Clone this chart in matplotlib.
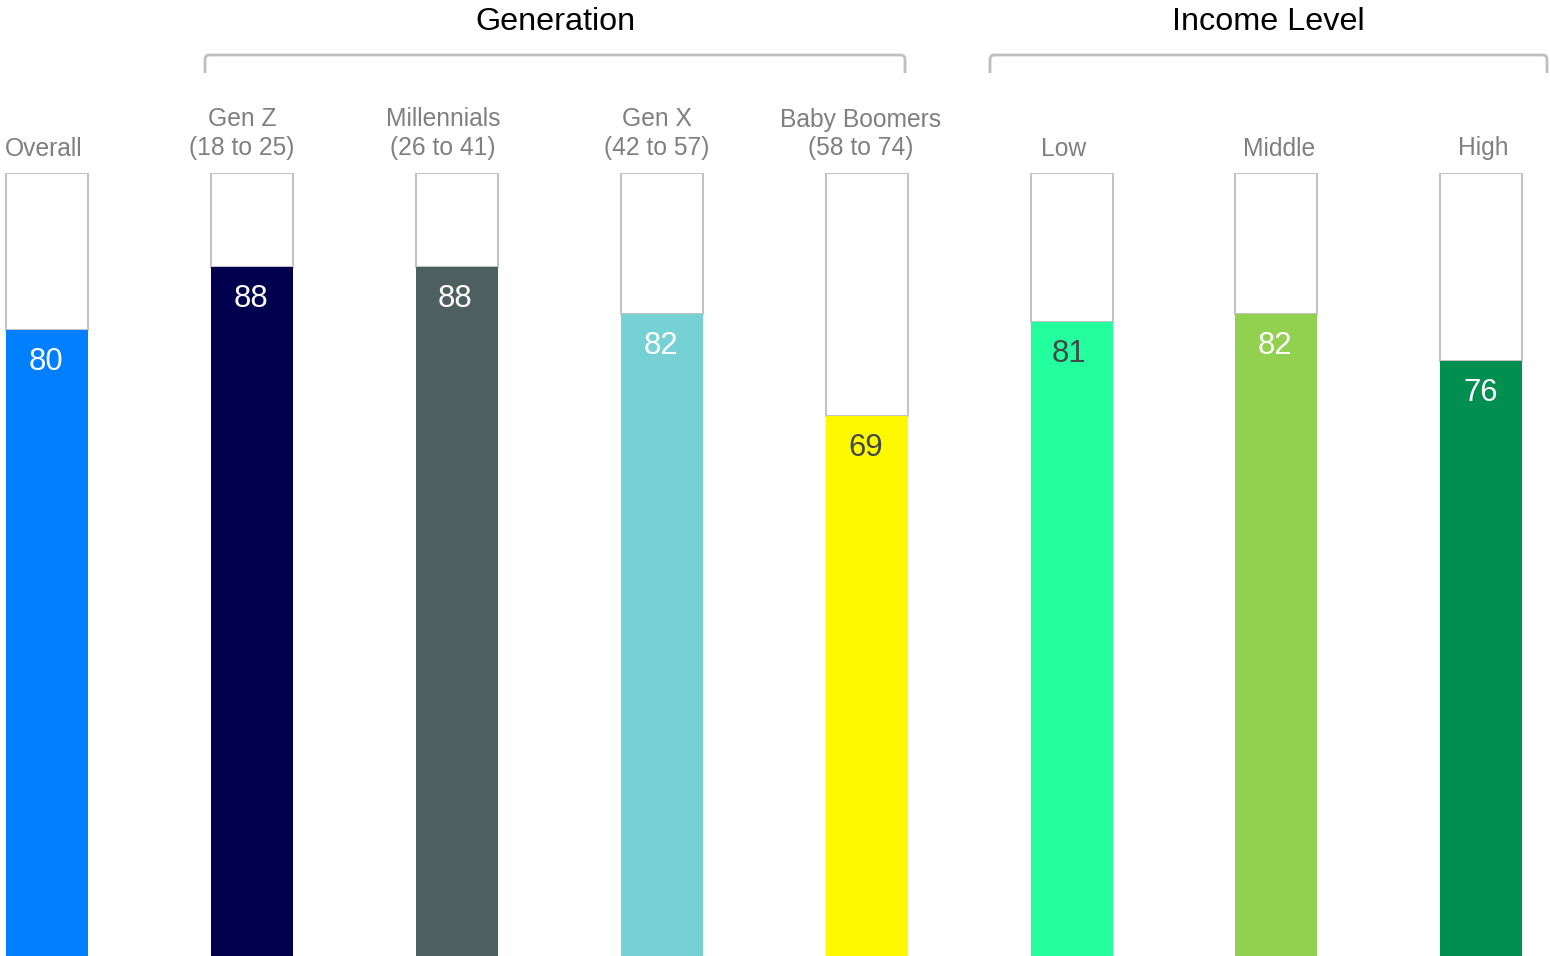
import matplotlib.pyplot as plt
from matplotlib.path import Path
from matplotlib.patches import PathPatch

plt.rcParams['font.family'] = ['Liberation Sans', 'DejaVu Sans']

categories = ["Overall", "Gen Z\n(18 to 25)", "Millennials\n(26 to 41)", "Gen X\n(42 to 57)",
              "Baby Boomers\n(58 to 74)", "Low", "Middle", "High"]
values = [80, 88, 88, 82, 69, 81, 82, 76]
colors = ["#0080FF", "#00004F", "#4D5F5F", "#76D1D5", "#FFF900", "#22FF9C", "#92D050", "#008F50"]
label_colors = ["white", "white", "white", "white", "#404848", "#404848", "white", "white"]
groups = [("Generation", 1, 4), ("Income Level", 5, 7)]

# small horizontal nudges (pixels) of the category labels, as in the original
cat_shift = [-3, -10, -14, -5, -6, -8, 3, 2]
val_shift = [-1, -1, -2, -1, -1, -3, -2, -1]

W, H = 1550, 956
fig = plt.figure(figsize=(W / 100, H / 100), dpi=100)
# axes: y=100 at pixel 173 from top, y=0 at bottom of figure
ax = fig.add_axes([0, 0, 1, (H - 173) / H])
step = 204.9
ax.set_xlim(-47 / step, (W - 47) / step)
ax.set_ylim(0, 100)
ax.axis('off')

ppu = (H - 173) / 100.0  # pixels per percent unit


def ypx(p):
    # pixel from top -> data y
    return (H - p) / ppu


x = list(range(len(values)))
bw = 82 / step
ax.bar(x, [100 - v for v in values], bottom=values, width=bw, color='white',
       edgecolor='#C4C4C4', linewidth=1.5, zorder=1)
ax.bar(x, values, width=bw, color=colors, linewidth=0, zorder=2)

for i, (v, c) in enumerate(zip(values, label_colors)):
    ax.annotate(str(v), (i, v), xytext=(val_shift[i], -32.5), textcoords='offset pixels',
                ha='center', va='center', fontsize=22.3, color=c, zorder=3)
    lines = categories[i].split('\n')
    ys = [148.5] if len(lines) == 1 else [119.5, 148.5]
    for line, yp in zip(lines, ys):
        ax.annotate(line, (i, ypx(yp)), xytext=(cat_shift[i], 0), textcoords='offset pixels',
                    ha='center', va='center', fontsize=17.7, color='#7F7F7F',
                    annotation_clip=False)

# group brackets
brackets = {"Generation": (205, 905), "Income Level": (990, 1547)}
for name, a, b in groups:
    l, r = brackets[name]
    x0, x1 = (l - 47) / step, (r - 47) / step
    yt, yb = ypx(55), ypx(73)
    rr = 0.02
    verts = [(x0, yb), (x0, yt - 0.6), (x0, yt), (x0 + rr, yt), (x1 - rr, yt), (x1, yt), (x1, yt - 0.6), (x1, yb)]
    codes = [Path.MOVETO, Path.LINETO, Path.CURVE3, Path.CURVE3, Path.LINETO, Path.CURVE3, Path.CURVE3, Path.LINETO]
    ax.add_patch(PathPatch(Path(verts, codes), fill=False, edgecolor='#BFBFBF', linewidth=2, clip_on=False))
    ax.text((x0 + x1) / 2, ypx(22), name, ha='center', va='center', fontsize=23.3,
            color='black', clip_on=False)

fig.savefig("out.png", dpi=100)
